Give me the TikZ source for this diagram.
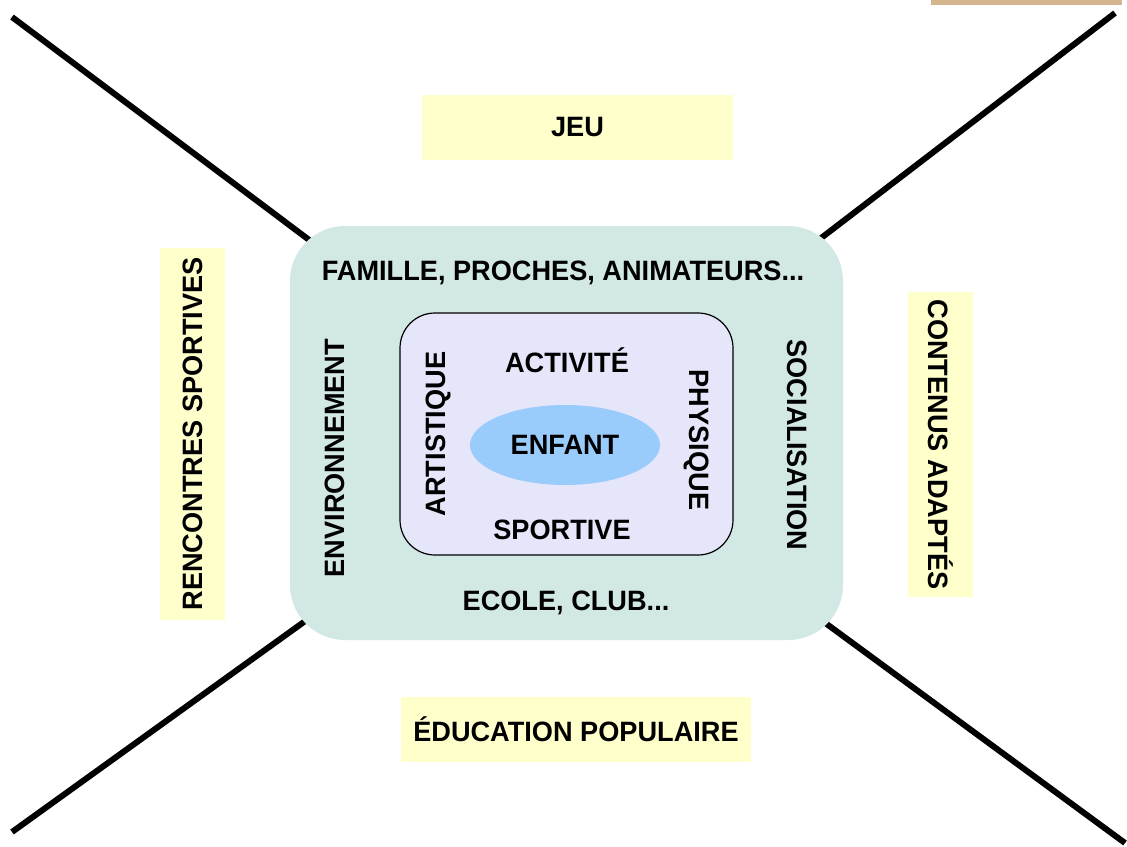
\documentclass[tikz,border=0pt]{standalone}
\usepackage{fontspec}
\setmainfont[FakeStretch=0.97]{Liberation Sans}
\usetikzlibrary{shapes.geometric,backgrounds}
\definecolor{jaune}{RGB}{255,255,204}
\definecolor{turquoise}{RGB}{210,232,228}
\definecolor{lavande}{RGB}{230,230,250}
\definecolor{bleuciel}{RGB}{153,204,250}
\definecolor{beige}{RGB}{212,180,140}

\begin{document}
\begin{tikzpicture}[x=1pt,y=-1pt,
	etiquette/.style={font=\fontsize{28}{32}\selectfont\bfseries, inner sep=0pt},
	cadre/.style={etiquette, fill=jaune, minimum height=65pt},
	diagonale/.style={line width=6pt}]
		\useasboundingbox (0,0) rectangle (1127,846);
		\fill[beige] (931,0) rectangle (1122,5);
		\node[fill=turquoise, rounded corners=55pt, minimum width=553pt, minimum height=414pt] (milieu) at (566.5,433) {};
		\coordinate (coinHG) at (12,17);
		\coordinate (coinHD) at (1115,13);
		\coordinate (coinBG) at (12,832);
		\coordinate (coinBD) at (1125,843);
		\begin{scope}[on background layer]
			\draw[diagonale] (coinHG) -- (milieu.center);
			\draw[diagonale] (coinHD) -- (milieu.center);
			\draw[diagonale] (coinBG) -- (milieu.center);
			\draw[diagonale] (coinBD) -- (milieu.center);
		\end{scope}
		\node[draw, line width=1.2pt, fill=lavande, rounded corners=35pt, minimum width=333pt, minimum height=242pt] (activite) at (566.5,434) {};
		\node[ellipse, fill=bleuciel, minimum width=190pt, minimum height=80pt, etiquette] (enfant) at (565,445) {ENFANT};
		\node[etiquette] (famille) at (563,273) {FAMILLE, PROCHES, ANIMATEURS...};
		\node[etiquette] (ecole) at (566,603) {ECOLE, CLUB...};
		\node[etiquette, rotate=90] (environnement) at (335,458) {ENVIRONNEMENT};
		\node[etiquette, rotate=-90] (socialisation) at (797,445) {SOCIALISATION};
		\node[etiquette] (activ) at (567,360) {ACTIVITÉ};
		\node[etiquette] (sportive) at (562,530) {SPORTIVE};
		\node[etiquette, rotate=90] (artistique) at (438,434) {ARTISTIQUE};
		\node[etiquette, rotate=-90] (physique) at (697,440) {PHYSIQUE};
		\node[cadre, minimum width=311pt] (jeu) at (577.5,127.5) {JEU};
		\node[cadre, minimum width=350pt] (education) at (576,729.5) {ÉDUCATION POPULAIRE};
		\node[cadre, rotate=90, minimum width=372pt] (rencontres) at (192.5,434) {RENCONTRES SPORTIVES};
		\node[cadre, rotate=-90, minimum width=305pt] (contenus) at (940.5,444.5) {CONTENUS ADAPTÉS};
	\end{tikzpicture}
\end{document}
